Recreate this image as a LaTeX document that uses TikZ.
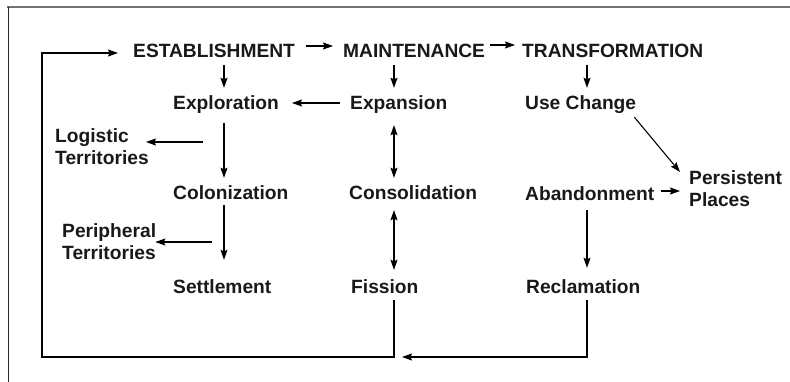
\documentclass[tikz,border=0pt]{standalone}
\usepackage{fontspec}
\setmainfont{Liberation Sans}
\usetikzlibrary{arrows.meta,calc}
\begin{document}
\begin{tikzpicture}[x=1pt,y=-1pt,
  lbl/.style={font=\bfseries\fontsize{19.2}{22}\selectfont, inner sep=0pt, text height=14pt, text depth=4pt, anchor=base west, text=black!90},
  lbltwo/.style={font=\bfseries\fontsize{19.2}{22}\selectfont, inner sep=0pt, align=left, anchor=north west, text=black!90},
  tip/.tip={Stealth[length=10pt,width=7pt,inset=1.5pt]},
  arr/.style={line width=1.1pt, -tip},
  darr/.style={line width=1.1pt, tip-tip},
  frame/.style={line width=1pt}]
\useasboundingbox (0,0) rectangle (790,382);
% frame
\draw[line width=1.6pt, black!55] (7,7) -- (790,7);
\draw[frame, black!85] (8,7) -- (8,382);
% column coordinates
\coordinate (c1) at (224,0);
\coordinate (c2) at (394,0);
\coordinate (c3) at (587,0);
\coordinate (bl) at (42,357);
\coordinate (lt) at (203,142);
\coordinate (pc) at (212,242);
% nodes
\node[lbl] (est) at (133,58) {ESTABLISHMENT};
\node[lbl] (main) at (343,58) {MAINTENANCE};
\node[lbl] (trans) at (522,58) {TRANSFORMATION};
\node[lbl] (expl) at (173,110) {Exploration};
\node[lbl] (expan) at (350,110) {Expansion};
\node[lbl] (use) at (525,110) {Use Change};
\node[lbl] (colon) at (173,200) {Colonization};
\node[lbl] (consol) at (349,200) {Consolidation};
\node[lbl] (aband) at (525,201) {Abandonment};
\node[lbl] (settle) at (173,293) {Settlement};
\node[lbl] (fission) at (351,293) {Fission};
\node[lbl] (reclam) at (526,293) {Reclamation};
\node[lbltwo] (logi) at (55,128) {Logistic\\Territories};
\node[lbltwo] (peri) at (62,223) {Peripheral\\Territories};
\node[lbltwo] (pers) at (689,170) {Persistent\\Places};
% top row arrows
\draw[arr] ([xshift=11pt,yshift=7pt]est.east) -- ([xshift=-10pt,yshift=7pt]main.west);
\draw[arr] ([xshift=5pt,yshift=8pt]main.east) -- ([xshift=-7pt,yshift=8pt]trans.west);
% vertical arrows
\draw[arr] ([yshift=-3pt]est.south -| c1) -- ([yshift=8pt]expl.north -| c1);
\draw[arr] ([yshift=-3pt]main.south -| c2) -- ([yshift=8pt]expan.north -| c2);
\draw[arr] ([yshift=-3pt]trans.south -| c3) -- ([yshift=8pt]use.north -| c3);
\draw[arr] ([yshift=-9pt]expl.south -| c1) -- ([yshift=8pt]colon.north -| c1);
\draw[arr] ([yshift=-1pt]colon.south -| c1) -- ([yshift=19pt]settle.north -| c1);
\draw[darr] ([yshift=-11pt]expan.south -| c2) -- ([yshift=8pt]consol.north -| c2);
\draw[darr] ([yshift=-6pt]consol.south -| c2) -- ([yshift=9pt]fission.north -| c2);
\draw[arr] ([yshift=-5pt]aband.south -| c3) -- ([yshift=11pt]reclam.north -| c3);
% horizontal arrows
\draw[arr] ([xshift=-10pt,yshift=2pt]expan.west) -- ([xshift=13pt,yshift=2pt]expl.east);
\draw[arr] (lt) -- ([xshift=-3pt]lt -| logi.east);
\draw[arr] (pc) -- ([xshift=-1pt]pc -| peri.east);
\draw[arr] ([xshift=7pt,yshift=5pt]aband.east) -- ([xshift=-9pt,yshift=5pt]aband.east -| pers.west);
\draw[arr] ([xshift=-2pt,yshift=-3pt]use.south east) -- ([xshift=-9pt,yshift=-2pt]pers.north west);
% feedback loops
\draw[arr] ([yshift=-3pt]fission.south -| c2) |- (bl) |- ([xshift=-15pt]est.west);
\draw[arr] ([yshift=-3pt]reclam.south -| c3) |- ([xshift=8pt]bl -| c2);
\end{tikzpicture}
\end{document}
